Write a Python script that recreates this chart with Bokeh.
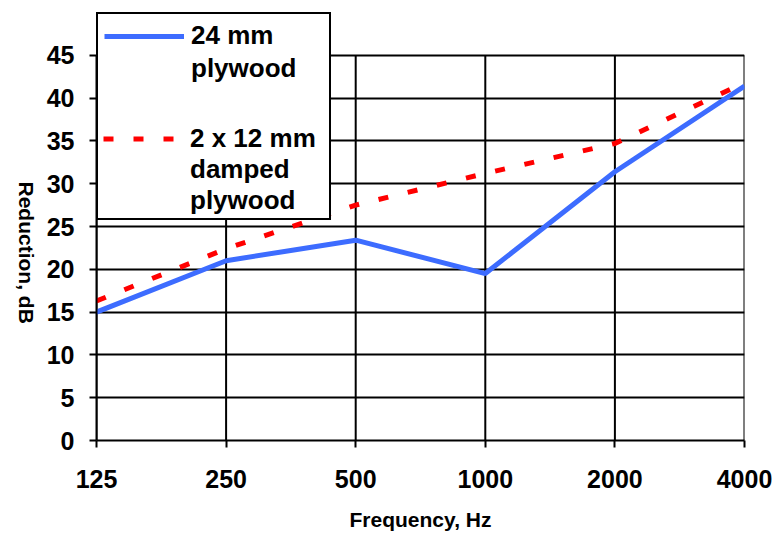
import math
from bokeh.plotting import figure
from bokeh.models import FixedTicker, Legend, LegendItem, ColumnDataSource
from bokeh.embed import file_html
from bokeh.resources import INLINE

# ---- data ----
freq_labels = ["125", "250", "500", "1000", "2000", "4000"]
plywood_24mm = [15.0, 21.0, 23.4, 19.5, 31.4, 41.4]
damped_2x12mm = [16.3, 22.4, 27.5, 31.2, 34.7, 41.8]
y_ticks = [0, 5, 10, 15, 20, 25, 30, 35, 40, 45]
series1_lines = ["24 mm", "plywood"]
series2_lines = ["2 x 12 mm", "damped", "plywood"]
x_title = "Frequency, Hz"
y_title = "Reduction, dB"

FONT = "Liberation Sans"
Y_MAX = y_ticks[-1]
xs = list(range(len(freq_labels)))

p = figure(width=774, height=534, output_backend="svg", toolbar_location=None,
           x_range=(0, len(freq_labels) - 1), y_range=(0, 50),
           min_border_left=96, min_border_right=30, min_border_top=12,
           min_border_bottom=94)
p.outline_line_color = None
p.background_fill_color = "white"
p.border_fill_color = "white"

# grid: horizontal lines from the y grid, vertical lines stop at the top tick
p.xgrid.visible = False
p.ygrid.ticker = FixedTicker(ticks=y_ticks)
p.ygrid.grid_line_color = "black"
p.ygrid.grid_line_width = 2
vsrc = ColumnDataSource(dict(x0=xs, y0=[0] * len(xs), x1=xs, y1=[Y_MAX] * len(xs)))
p.segment(x0="x0", y0="y0", x1="x1", y1="y1", source=vsrc, line_color="black", line_width=2)

# axes
p.xaxis.ticker = FixedTicker(ticks=xs)
p.xaxis.major_label_overrides = {i: s for i, s in enumerate(freq_labels)}
p.yaxis.ticker = FixedTicker(ticks=y_ticks)
p.yaxis.bounds = (0, Y_MAX)
for ax in (p.xaxis[0], p.yaxis[0]):
    ax.axis_line_color = "black"
    ax.axis_line_width = 2
    ax.major_tick_line_color = "black"
    ax.major_tick_line_width = 2
    ax.major_tick_out = 7
    ax.major_tick_in = 0
    ax.minor_tick_line_color = None
    ax.major_label_text_font = FONT
    ax.major_label_text_font_style = "bold"
    ax.major_label_text_font_size = "25px"
    ax.major_label_text_color = "black"
    ax.axis_label_text_font = FONT
    ax.axis_label_text_font_style = "bold"
    ax.axis_label_text_font_size = "21px"
    ax.axis_label_text_color = "black"
p.xaxis.major_label_standoff = 22
p.yaxis.major_label_standoff = 15

p.xaxis.axis_label = x_title
p.xaxis.axis_label_standoff = 17

yax = p.yaxis[0]
# label reads top-to-bottom; it is end-anchored, so pad it to sit centred on 0..45
yax.axis_label = y_title + "\u00a0" * 20
yax.axis_label_standoff = 17
if "axis_label_orientation" in yax.properties():
    yax.axis_label_orientation = -math.pi / 2
if "axis_label_align" in yax.properties():
    yax.axis_label_align = "start"

# series
r1 = p.line(xs, plywood_24mm, line_color="#3d6cff", line_width=5)
r2 = p.line(xs, damped_2x12mm, line_color="#ff0000", line_width=5, line_dash="10 20")
blank = p.line(x=[], y=[], line_alpha=0)

common = dict(margin=0, padding=6, glyph_width=80, label_standoff=7,
              label_text_font=FONT, label_text_font_style="bold",
              label_text_font_size="26px", label_text_color="black")

items_a = [LegendItem(label=series1_lines[0], renderers=[r1])]
items_a += [LegendItem(label=t, renderers=[blank]) for t in series1_lines[1:]]
items_a += [LegendItem(label=" ", renderers=[blank]) for _ in range(4)]
legend_a = Legend(items=items_a, location="top_left", label_width=132,
                  glyph_height=30, label_height=30, spacing=2,
                  border_line_color="black", border_line_width=2, border_line_alpha=1.0,
                  background_fill_color="white", background_fill_alpha=1.0, **common)

items_b = [LegendItem(label=series2_lines[0], renderers=[r2])]
items_b += [LegendItem(label=t, renderers=[blank]) for t in series2_lines[1:]]
legend_b = Legend(items=items_b, location=(7, 224), glyph_height=31, label_height=31,
                  spacing=0, border_line_color=None,
                  background_fill_alpha=0.0, **common)

p.add_layout(legend_a)
p.add_layout(legend_b)

open("out.html", "w").write(file_html(p, INLINE))
